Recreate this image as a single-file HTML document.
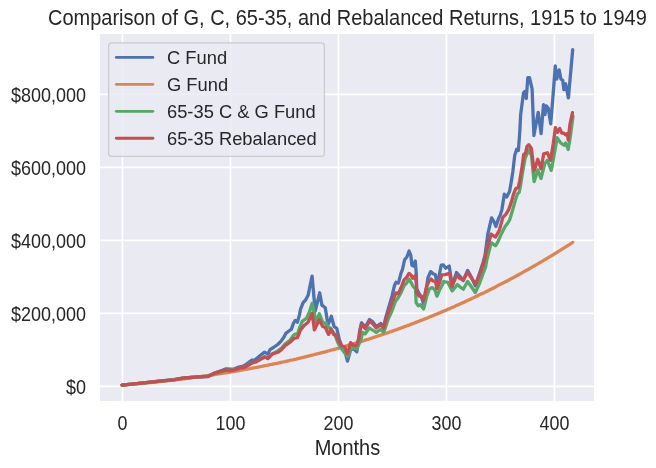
<!DOCTYPE html><html><head><meta charset="utf-8"><style>html,body{margin:0;padding:0;background:#fff;overflow:hidden}svg{display:block;will-change:transform}</style></head><body><svg width="656" height="468" viewBox="0 0 656 468"><rect x="0" y="0" width="656" height="468" fill="#ffffff"/><rect x="100" y="34" width="494" height="367" fill="#EAEAF2"/><line x1="122.50" y1="34" x2="122.50" y2="401" stroke="#fff" stroke-width="1.67"/><line x1="230.50" y1="34" x2="230.50" y2="401" stroke="#fff" stroke-width="1.67"/><line x1="338.50" y1="34" x2="338.50" y2="401" stroke="#fff" stroke-width="1.67"/><line x1="446.50" y1="34" x2="446.50" y2="401" stroke="#fff" stroke-width="1.67"/><line x1="554.50" y1="34" x2="554.50" y2="401" stroke="#fff" stroke-width="1.67"/><line x1="100" y1="386.30" x2="594" y2="386.30" stroke="#fff" stroke-width="1.67"/><line x1="100" y1="313.33" x2="594" y2="313.33" stroke="#fff" stroke-width="1.67"/><line x1="100" y1="240.35" x2="594" y2="240.35" stroke="#fff" stroke-width="1.67"/><line x1="100" y1="167.38" x2="594" y2="167.38" stroke="#fff" stroke-width="1.67"/><line x1="100" y1="94.40" x2="594" y2="94.40" stroke="#fff" stroke-width="1.67"/><text transform="translate(86.10,393.50) scale(0.982,1.06)" font-family="Liberation Sans, sans-serif" font-size="18.33" fill="#262626" text-anchor="end">$0</text><text transform="translate(86.10,320.53) scale(0.982,1.06)" font-family="Liberation Sans, sans-serif" font-size="18.33" fill="#262626" text-anchor="end">$200,000</text><text transform="translate(86.10,247.55) scale(0.982,1.06)" font-family="Liberation Sans, sans-serif" font-size="18.33" fill="#262626" text-anchor="end">$400,000</text><text transform="translate(86.10,174.58) scale(0.982,1.06)" font-family="Liberation Sans, sans-serif" font-size="18.33" fill="#262626" text-anchor="end">$600,000</text><text transform="translate(86.10,101.60) scale(0.982,1.06)" font-family="Liberation Sans, sans-serif" font-size="18.33" fill="#262626" text-anchor="end">$800,000</text><text transform="translate(122.50,429.80) scale(0.975,1.06)" font-family="Liberation Sans, sans-serif" font-size="18.33" fill="#262626" text-anchor="middle">0</text><text transform="translate(230.50,429.80) scale(0.975,1.06)" font-family="Liberation Sans, sans-serif" font-size="18.33" fill="#262626" text-anchor="middle">100</text><text transform="translate(338.50,429.80) scale(0.975,1.06)" font-family="Liberation Sans, sans-serif" font-size="18.33" fill="#262626" text-anchor="middle">200</text><text transform="translate(446.50,429.80) scale(0.975,1.06)" font-family="Liberation Sans, sans-serif" font-size="18.33" fill="#262626" text-anchor="middle">300</text><text transform="translate(554.50,429.80) scale(0.975,1.06)" font-family="Liberation Sans, sans-serif" font-size="18.33" fill="#262626" text-anchor="middle">400</text><text transform="translate(347.40,454.60) scale(1,1.06)" font-family="Liberation Sans, sans-serif" font-size="20" fill="#262626" text-anchor="middle">Months</text><text transform="translate(347.40,24.90) scale(1,1.06)" font-family="Liberation Sans, sans-serif" font-size="20" fill="#262626" text-anchor="middle">Comparison of G, C, 65-35, and Rebalanced Returns, 1915 to 1949</text><polyline points="122.0,385.1 143.6,382.8 159.0,381.1 174.0,379.6 182.5,378.1 191.1,377.3 198.8,376.9 208.2,376.3 215.0,372.8 221.9,370.6 226.0,368.8 231.1,369.2 234.5,368.8 238.8,367.1 243.1,366.2 246.5,364.1 251.6,360.2 255.1,359.8 260.2,355.5 264.5,352.1 267.9,354.2 270.0,349.6 273.4,347.5 277.7,344.5 281.1,341.1 283.7,337.6 285.8,333.4 289.2,330.8 291.4,329.1 293.5,323.1 295.2,320.5 297.4,322.3 299.5,314.6 300.5,309.4 303.1,302.6 305.6,300.0 308.2,294.9 312.1,276.1 315.2,311.0 319.7,292.8 321.9,305.1 325.3,307.7 327.9,324.8 330.1,320.0 331.3,316.3 334.2,326.7 336.8,328.3 339.3,339.5 342.4,347.7 345.0,351.8 347.5,361.1 350.6,349.8 353.7,348.8 356.8,351.8 359.8,330.3 361.4,323.1 361.6,322.8 365.3,327.0 369.5,319.5 372.5,321.5 376.2,326.5 380.7,323.5 383.7,326.5 385.5,318.5 388.5,308.2 392.0,296.2 394.5,285.5 396.0,282.3 398.4,283.1 399.7,278.3 400.9,273.4 402.5,269.3 404.1,262.0 404.8,259.5 406.9,257.0 409.1,251.0 410.8,255.3 411.9,265.3 413.5,266.1 415.3,261.0 416.3,274.2 416.7,288.7 419.3,294.0 421.5,297.3 423.6,303.7 425.8,291.9 427.9,278.0 430.6,271.6 433.2,273.8 435.4,274.8 437.0,283.4 439.1,275.9 441.2,265.2 443.2,264.8 445.8,268.2 449.2,266.1 452.2,285.8 456.5,272.5 459.5,275.9 463.3,280.6 467.6,270.4 471.9,278.1 475.3,285.8 479.6,272.9 483.0,262.7 485.1,255.0 487.8,234.2 491.6,217.9 494.5,222.7 495.9,226.5 498.8,217.9 500.3,215.0 501.9,209.6 504.3,194.2 506.7,197.1 509.6,191.3 511.1,182.7 512.8,172.0 514.7,155.6 516.7,149.2 518.4,150.5 519.9,130.0 520.6,115.0 523.5,93.0 524.9,91.5 526.3,98.5 527.8,77.7 529.5,77.7 532.1,89.2 533.9,135.5 538.2,112.3 541.1,133.5 543.5,104.6 545.0,114.5 546.3,105.8 548.3,108.5 550.7,123.8 552.7,100.0 555.3,66.0 556.8,79.0 558.0,72.0 559.2,70.0 560.9,79.0 562.7,80.3 563.9,89.7 565.6,83.8 568.4,97.9 572.7,49.7" fill="none" stroke="#4C72B0" stroke-width="3.3" stroke-linejoin="round" stroke-linecap="round"/><polyline points="122.0,385.1 123.0,385.0 124.0,385.0 125.0,384.9 126.0,384.8 127.0,384.7 128.0,384.6 129.0,384.5 130.0,384.4 131.0,384.4 132.0,384.3 133.0,384.2 134.0,384.1 135.0,384.0 136.0,383.9 137.0,383.8 138.0,383.7 139.0,383.6 140.0,383.6 141.0,383.5 142.0,383.4 143.0,383.3 144.0,383.2 145.0,383.1 146.0,383.0 147.0,382.9 148.0,382.8 149.0,382.7 150.0,382.6 151.0,382.5 152.0,382.4 153.0,382.3 154.0,382.2 155.0,382.1 156.0,382.0 157.0,381.9 158.0,381.8 159.0,381.7 160.0,381.6 161.0,381.4 162.0,381.3 163.0,381.2 164.0,381.1 165.0,381.0 166.0,380.9 167.0,380.8 168.0,380.7 169.0,380.6 170.0,380.4 171.0,380.3 172.0,380.2 173.0,380.1 174.0,380.0 175.0,379.9 176.0,379.7 177.0,379.6 178.0,379.5 179.0,379.4 180.0,379.3 181.0,379.1 182.0,379.0 183.0,378.9 184.0,378.8 185.0,378.6 186.0,378.5 187.0,378.4 188.0,378.3 189.0,378.1 190.0,378.0 191.0,377.9 192.0,377.7 193.0,377.6 194.0,377.5 195.0,377.3 196.0,377.2 197.0,377.1 198.0,376.9 199.0,376.8 200.0,376.7 201.0,376.5 202.0,376.4 203.0,376.2 204.0,376.1 205.0,376.0 206.0,375.8 207.0,375.7 208.0,375.5 209.0,375.4 210.0,375.2 211.0,375.1 212.0,374.9 213.0,374.8 214.0,374.6 215.0,374.5 216.0,374.3 217.0,374.2 218.0,374.0 219.0,373.9 220.0,373.7 221.0,373.6 222.0,373.4 223.0,373.2 224.0,373.1 225.0,372.9 226.0,372.8 227.0,372.6 228.0,372.4 229.0,372.3 230.0,372.1 231.0,371.9 232.0,371.8 233.0,371.6 234.0,371.4 235.0,371.3 236.0,371.1 237.0,370.9 238.0,370.8 239.0,370.6 240.0,370.4 241.0,370.2 242.0,370.1 243.0,369.9 244.0,369.7 245.0,369.5 246.0,369.3 247.0,369.2 248.0,369.0 249.0,368.8 250.0,368.6 251.0,368.4 252.0,368.2 253.0,368.1 254.0,367.9 255.0,367.7 256.0,367.5 257.0,367.3 258.0,367.1 259.0,366.9 260.0,366.7 261.0,366.5 262.0,366.3 263.0,366.1 264.0,365.9 265.0,365.7 266.0,365.5 267.0,365.3 268.0,365.1 269.0,364.9 270.0,364.7 271.0,364.5 272.0,364.3 273.0,364.1 274.0,363.9 275.0,363.7 276.0,363.5 277.0,363.3 278.0,363.1 279.0,362.9 280.0,362.6 281.0,362.4 282.0,362.2 283.0,362.0 284.0,361.8 285.0,361.6 286.0,361.3 287.0,361.1 288.0,360.9 289.0,360.7 290.0,360.4 291.0,360.2 292.0,360.0 293.0,359.8 294.0,359.5 295.0,359.3 296.0,359.1 297.0,358.8 298.0,358.6 299.0,358.4 300.0,358.1 301.0,357.9 302.0,357.7 303.0,357.4 304.0,357.2 305.0,356.9 306.0,356.7 307.0,356.4 308.0,356.2 309.0,355.9 310.0,355.7 311.0,355.5 312.0,355.2 313.0,355.0 314.0,354.7 315.0,354.4 316.0,354.2 317.0,353.9 318.0,353.7 319.0,353.4 320.0,353.2 321.0,352.9 322.0,352.6 323.0,352.4 324.0,352.1 325.0,351.8 326.0,351.6 327.0,351.3 328.0,351.0 329.0,350.8 330.0,350.5 331.0,350.2 332.0,350.0 333.0,349.7 334.0,349.4 335.0,349.1 336.0,348.9 337.0,348.6 338.0,348.3 339.0,348.0 340.0,347.7 341.0,347.4 342.0,347.2 343.0,346.9 344.0,346.6 345.0,346.3 346.0,346.0 347.0,345.7 348.0,345.4 349.0,345.1 350.0,344.8 351.0,344.5 352.0,344.2 353.0,343.9 354.0,343.6 355.0,343.3 356.0,343.0 357.0,342.7 358.0,342.4 359.0,342.1 360.0,341.8 361.0,341.5 362.0,341.2 363.0,340.9 364.0,340.6 365.0,340.2 366.0,339.9 367.0,339.6 368.0,339.3 369.0,339.0 370.0,338.6 371.0,338.3 372.0,338.0 373.0,337.7 374.0,337.3 375.0,337.0 376.0,336.7 377.0,336.4 378.0,336.0 379.0,335.7 380.0,335.4 381.0,335.0 382.0,334.7 383.0,334.3 384.0,334.0 385.0,333.7 386.0,333.3 387.0,333.0 388.0,332.6 389.0,332.3 390.0,331.9 391.0,331.6 392.0,331.2 393.0,330.9 394.0,330.5 395.0,330.2 396.0,329.8 397.0,329.5 398.0,329.1 399.0,328.7 400.0,328.4 401.0,328.0 402.0,327.6 403.0,327.3 404.0,326.9 405.0,326.5 406.0,326.2 407.0,325.8 408.0,325.4 409.0,325.1 410.0,324.7 411.0,324.3 412.0,323.9 413.0,323.5 414.0,323.2 415.0,322.8 416.0,322.4 417.0,322.0 418.0,321.6 419.0,321.2 420.0,320.8 421.0,320.4 422.0,320.0 423.0,319.7 424.0,319.3 425.0,318.9 426.0,318.5 427.0,318.1 428.0,317.7 429.0,317.2 430.0,316.8 431.0,316.4 432.0,316.0 433.0,315.6 434.0,315.2 435.0,314.8 436.0,314.4 437.0,314.0 438.0,313.5 439.0,313.1 440.0,312.7 441.0,312.3 442.0,311.9 443.0,311.4 444.0,311.0 445.0,310.6 446.0,310.2 447.0,309.7 448.0,309.3 449.0,308.9 450.0,308.4 451.0,308.0 452.0,307.5 453.0,307.1 454.0,306.7 455.0,306.2 456.0,305.8 457.0,305.3 458.0,304.9 459.0,304.4 460.0,304.0 461.0,303.5 462.0,303.1 463.0,302.6 464.0,302.2 465.0,301.7 466.0,301.2 467.0,300.8 468.0,300.3 469.0,299.8 470.0,299.4 471.0,298.9 472.0,298.4 473.0,298.0 474.0,297.5 475.0,297.0 476.0,296.5 477.0,296.1 478.0,295.6 479.0,295.1 480.0,294.6 481.0,294.1 482.0,293.6 483.0,293.2 484.0,292.7 485.0,292.2 486.0,291.7 487.0,291.2 488.0,290.7 489.0,290.2 490.0,289.7 491.0,289.2 492.0,288.7 493.0,288.2 494.0,287.7 495.0,287.2 496.0,286.7 497.0,286.1 498.0,285.6 499.0,285.1 500.0,284.6 501.0,284.1 502.0,283.6 503.0,283.0 504.0,282.5 505.0,282.0 506.0,281.5 507.0,280.9 508.0,280.4 509.0,279.9 510.0,279.3 511.0,278.8 512.0,278.3 513.0,277.7 514.0,277.2 515.0,276.7 516.0,276.1 517.0,275.6 518.0,275.0 519.0,274.5 520.0,273.9 521.0,273.4 522.0,272.8 523.0,272.3 524.0,271.7 525.0,271.1 526.0,270.6 527.0,270.0 528.0,269.5 529.0,268.9 530.0,268.3 531.0,267.8 532.0,267.2 533.0,266.6 534.0,266.0 535.0,265.5 536.0,264.9 537.0,264.3 538.0,263.7 539.0,263.1 540.0,262.5 541.0,262.0 542.0,261.4 543.0,260.8 544.0,260.2 545.0,259.6 546.0,259.0 547.0,258.4 548.0,257.8 549.0,257.2 550.0,256.6 551.0,256.0 552.0,255.4 553.0,254.8 554.0,254.2 555.0,253.5 556.0,252.9 557.0,252.3 558.0,251.7 559.0,251.1 560.0,250.4 561.0,249.8 562.0,249.2 563.0,248.6 564.0,247.9 565.0,247.3 566.0,246.7 567.0,246.0 568.0,245.4 569.0,244.8 570.0,244.1 571.0,243.5 572.0,242.8 572.7,242.4" fill="none" stroke="#DD8452" stroke-width="3.3" stroke-linejoin="round" stroke-linecap="round"/><polyline points="122.0,385.1 143.6,382.9 159.0,381.3 174.0,379.7 182.5,378.4 191.1,377.5 198.8,376.9 208.2,376.0 215.0,373.4 221.9,371.6 226.0,370.2 231.1,370.2 235.4,369.4 239.7,368.2 243.9,367.1 247.4,365.4 251.6,363.0 255.9,362.1 260.2,359.4 264.9,357.0 267.9,358.0 272.6,353.7 277.3,351.2 278.5,350.4 281.6,348.1 285.4,343.7 290.0,340.2 293.1,335.9 294.8,334.2 297.4,334.2 299.5,328.2 302.2,321.4 306.5,318.4 309.1,312.8 312.1,303.4 314.2,312.8 316.3,322.2 319.3,313.7 322.7,322.2 325.3,323.5 326.0,323.1 328.3,328.0 330.1,327.7 334.7,334.5 338.3,343.6 341.4,348.8 347.5,356.5 351.6,347.7 356.8,348.8 359.0,344.0 360.8,340.0 362.7,332.4 365.0,333.9 369.5,328.0 372.5,330.0 376.2,332.4 380.7,329.4 383.7,332.4 388.2,319.0 392.0,310.8 395.4,301.4 397.6,298.6 400.9,292.9 404.1,285.6 406.6,283.1 409.0,279.1 411.4,283.1 413.0,286.4 415.5,288.8 416.1,302.6 418.3,305.8 420.4,304.7 423.6,309.0 426.8,296.2 429.5,288.7 432.2,287.6 434.8,289.8 437.0,296.2 439.6,289.8 442.0,285.5 443.7,281.5 447.9,282.4 452.2,290.9 457.4,284.5 460.8,287.5 463.3,289.2 467.6,281.5 471.9,287.5 475.3,292.6 479.6,283.2 483.0,273.8 485.6,267.0 486.8,260.0 490.7,244.8 491.6,242.9 495.5,245.8 497.9,241.9 501.2,234.2 505.1,226.5 508.0,222.7 509.6,220.0 512.5,210.6 515.4,200.0 517.3,194.2 519.2,192.3 520.7,184.6 522.1,175.0 525.0,158.7 528.9,149.7 531.5,155.6 534.1,181.7 537.8,169.9 541.0,178.5 544.8,163.5 547.4,160.3 551.2,170.4 552.8,162.4 555.4,147.8 557.1,137.6 560.5,142.7 563.9,145.3 565.6,143.1 568.2,149.5 570.3,136.7 573.0,116.1" fill="none" stroke="#55A868" stroke-width="3.3" stroke-linejoin="round" stroke-linecap="round"/><polyline points="122.0,385.1 143.6,382.8 159.0,381.1 174.0,379.9 182.5,378.2 191.1,377.4 198.8,376.9 208.2,376.5 215.0,373.1 221.9,370.9 226.0,370.0 231.1,370.5 235.4,369.6 239.7,367.9 243.9,367.5 247.4,365.8 251.6,363.2 255.9,361.5 260.2,359.4 264.9,356.8 267.9,358.5 272.6,353.8 277.3,352.5 278.5,352.0 281.6,349.5 285.4,345.3 290.5,341.9 293.9,338.5 297.4,337.6 299.5,332.5 300.5,329.9 304.4,325.2 308.2,322.2 312.1,313.2 314.4,329.9 319.3,319.7 322.7,326.5 325.3,327.4 327.0,331.3 328.6,334.4 331.1,329.3 333.7,334.4 336.3,335.4 338.8,341.6 341.4,345.7 344.5,346.7 347.5,353.9 350.6,342.6 353.7,345.7 356.8,345.2 358.8,338.5 360.5,328.7 361.6,324.2 365.3,328.7 369.5,321.2 372.5,323.5 376.2,328.0 380.7,325.0 383.7,328.0 387.4,314.5 389.4,309.9 392.8,300.5 396.0,292.9 398.4,293.7 400.9,288.0 404.1,279.9 406.6,277.4 409.0,273.4 411.0,275.0 412.7,278.3 415.1,275.8 416.3,282.3 416.7,293.0 419.3,296.2 421.5,296.2 423.6,300.5 426.3,287.6 429.0,281.2 431.1,279.1 433.2,281.2 435.4,281.2 437.0,288.7 439.6,282.3 441.8,274.8 445.0,274.7 449.7,273.4 451.8,286.6 456.5,275.5 459.9,278.5 463.3,279.8 467.6,272.1 471.9,278.9 475.7,284.1 479.6,274.7 483.0,265.3 485.1,257.6 486.0,252.0 488.7,242.9 491.1,234.2 495.5,237.1 499.3,230.4 502.9,217.3 505.8,214.4 508.7,209.6 511.1,202.9 513.5,194.2 515.9,188.5 518.3,187.5 519.7,180.8 520.7,175.0 522.4,164.6 523.7,154.4 525.6,153.1 526.9,146.7 528.8,144.7 531.4,148.5 534.1,171.0 537.8,159.2 541.0,168.8 543.7,153.9 547.4,152.8 550.6,160.3 553.3,143.2 555.4,127.6 557.5,132.4 559.7,128.5 561.8,133.2 563.9,133.2 565.6,134.9 567.4,133.6 568.2,140.0 569.9,124.7 572.5,112.7" fill="none" stroke="#C44E52" stroke-width="3.3" stroke-linejoin="round" stroke-linecap="round"/><rect x="108.6" y="42.9" width="215.8" height="113.4" rx="3" ry="3" fill="#EAEAF2" fill-opacity="0.8" stroke="#cccccc" stroke-width="1.3"/><line x1="116.3" y1="57.40" x2="152.9" y2="57.40" stroke="#4C72B0" stroke-width="2.8" stroke-linecap="round"/><text transform="translate(167.00,63.70) scale(1,1.03)" font-family="Liberation Sans, sans-serif" font-size="18.33" fill="#262626" text-anchor="start">C Fund</text><line x1="116.3" y1="84.35" x2="152.9" y2="84.35" stroke="#DD8452" stroke-width="2.8" stroke-linecap="round"/><text transform="translate(167.00,90.65) scale(1,1.03)" font-family="Liberation Sans, sans-serif" font-size="18.33" fill="#262626" text-anchor="start">G Fund</text><line x1="116.3" y1="111.30" x2="152.9" y2="111.30" stroke="#55A868" stroke-width="2.8" stroke-linecap="round"/><text transform="translate(167.00,117.60) scale(1,1.03)" font-family="Liberation Sans, sans-serif" font-size="18.33" fill="#262626" text-anchor="start">65-35 C &amp; G Fund</text><line x1="116.3" y1="138.25" x2="152.9" y2="138.25" stroke="#C44E52" stroke-width="2.8" stroke-linecap="round"/><text transform="translate(167.00,144.55) scale(1,1.03)" font-family="Liberation Sans, sans-serif" font-size="18.33" fill="#262626" text-anchor="start">65-35 Rebalanced</text></svg></body></html>
